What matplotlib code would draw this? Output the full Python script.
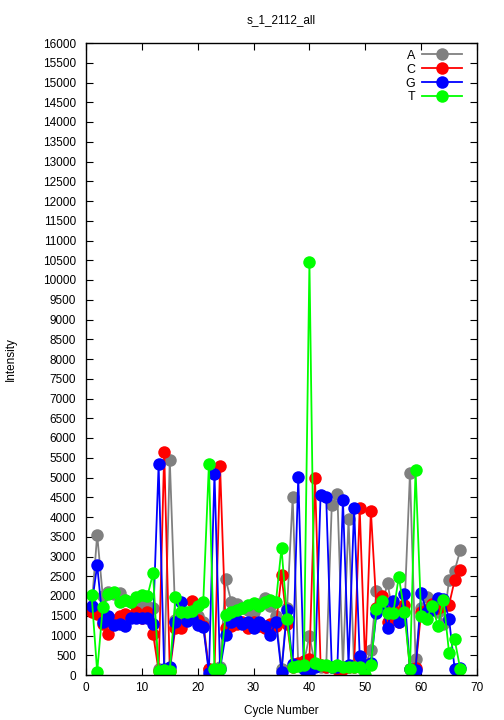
import matplotlib
matplotlib.use("Agg")
import matplotlib.pyplot as plt
import numpy as np

plt.rcParams['font.family'] = ['Liberation Sans', 'DejaVu Sans']

cycles = list(range(1, 68))

A = [1700, 3550, 2000, 2100, 2050, 2070, 1900, 1850, 1750, 1850,
     1750, 1700, 150, 100, 5450, 1400, 1500, 1500, 1550, 1500,
     1350, 150, 150, 200, 2430, 1860, 1810, 1700, 1650, 1600,
     1800, 1960, 1750, 1500, 150, 1700, 4500, 250, 300, 1000,
     250, 200, 200, 4300, 4580, 200, 3950, 250, 200, 250,
     630, 2130, 1800, 2320, 1500, 1400, 1600, 5120, 400, 1700,
     1980, 1700, 1600, 1300, 2400, 2640, 3160]

C = [1600, 1550, 1300, 1050, 1400, 1500, 1550, 1500, 1600, 1450,
     1600, 1050, 100, 5650, 100, 1200, 1200, 1400, 1870, 1400,
     1250, 150, 100, 5300, 1200, 1250, 1300, 1350, 1200, 1350,
     1250, 1200, 1300, 1250, 2530, 1300, 200, 300, 350, 400,
     4980, 250, 200, 200, 150, 150, 200, 200, 4220, 200,
     4160, 1700, 2000, 1350, 1650, 1340, 1770, 140, 170, 1600,
     1650, 1810, 1700, 1750, 1780, 2400, 2660]

G = [1750, 2780, 1350, 1500, 1270, 1300, 1240, 1450, 1440, 1440,
     1450, 1300, 5330, 150, 200, 1350, 1860, 1370, 1450, 1270,
     1220, 50, 5100, 150, 1010, 1350, 1390, 1300, 1350, 1180,
     1350, 1250, 1010, 1350, 80, 1650, 280, 5020, 150, 50,
     200, 4560, 4500, 200, 200, 4430, 250, 4220, 480, 250,
     300, 1560, 1750, 1200, 1880, 1350, 2050, 150, 120, 2070,
     1600, 1650, 1940, 1920, 1420, 150, 170]

T = [2030, 80, 1730, 2050, 2100, 1860, 1900, 1850, 1980, 2030,
     2000, 2570, 100, 120, 100, 1970, 1600, 1600, 1620, 1750,
     1860, 5330, 150, 150, 1520, 1600, 1650, 1700, 1780, 1820,
     1750, 1850, 1900, 1850, 3220, 1430, 200, 230, 250, 10450,
     300, 250, 250, 200, 250, 200, 200, 200, 200, 0,
     250, 1660, 1880, 1580, 1560, 2490, 1600, 150, 5200, 1500,
     1430, 1750, 1250, 1900, 560, 900, 150]

series = [("A", A, "#808080"), ("C", C, "#ff0000"),
          ("G", G, "#0000ff"), ("T", T, "#00ff00")]

xticks = list(range(0, 80, 10))
yticks = list(range(0, 16500, 500))

fig = plt.figure(figsize=(5.04, 7.2), dpi=100)
ax = fig.add_axes([86/504, 1 - 675/720, (477 - 86)/504, (675 - 43)/720])

for name, vals, col in series:
    ax.plot(cycles, vals, color=col, lw=1.3, marker='o', markersize=9,
            markeredgewidth=0, label=name)

ax.set_xlim(0, 70)
ax.set_ylim(0, 16000)
ax.set_xticks(xticks)
ax.set_yticks(yticks)
ax.tick_params(direction='in', top=True, right=True, length=5, width=0.8,
               labelsize=8.5, colors='black')
ax.tick_params(axis='y', pad=7)
ax.tick_params(axis='x', pad=5)
for s in ax.spines.values():
    s.set_linewidth(1.0)

ax.set_title("s_1_2112_all", fontsize=8.5, pad=14)
ax.set_xlabel("Cycle Number", fontsize=8.5)
ax.set_ylabel("Intensity", fontsize=8.5)
ax.xaxis.set_label_coords(0.5, -0.047)
ax.yaxis.set_label_coords(-0.176, 0.5)

leg = ax.legend(loc='upper right', bbox_to_anchor=(0.985, 1.003),
                frameon=False, markerfirst=False,
                fontsize=9, handlelength=3.2, labelspacing=0.15,
                handletextpad=0.6, borderaxespad=0.3)

fig.savefig("out.png", dpi=100)
